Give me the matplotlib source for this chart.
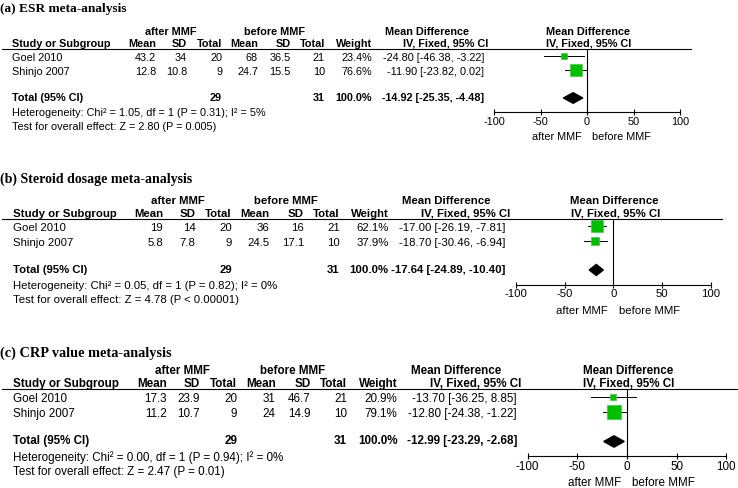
import matplotlib
matplotlib.use("Agg")
import matplotlib.pyplot as plt
from matplotlib.lines import Line2D
from matplotlib.patches import Polygon

# --- data ---
titles = ["(a) ESR meta-analysis", "(b) Steroid dosage meta-analysis", "(c) CRP value meta-analysis"]
studies = ["Goel 2010", "Shinjo 2007"]
mean_after = [[43.2, 12.8], [19, 5.8], [17.3, 11.2]]
sd_after = [[34, 10.8], [14, 7.8], [23.9, 10.7]]
n_after = [[20, 9], [20, 9], [20, 9]]
mean_before = [[68, 24.7], [36, 24.5], [31, 24]]
sd_before = [[36.5, 15.5], [16, 17.1], [46.7, 14.9]]
n_before = [[21, 10], [21, 10], [21, 10]]
weights = [[23.4, 76.6], [62.1, 37.9], [20.9, 79.1]]
md = [[-24.80, -11.90], [-17.00, -18.70], [-13.70, -12.80]]
md_lo = [[-46.38, -23.82], [-26.19, -30.46], [-36.25, -24.38]]
md_hi = [[-3.22, 0.02], [-7.81, -6.94], [8.85, -1.22]]
total_md = [-14.92, -17.64, -12.99]
total_lo = [-25.35, -24.89, -23.29]
total_hi = [-4.48, -10.40, -2.68]
chi2 = ["1.05", "0.05", "0.00"]
p_het = ["0.31", "0.82", "0.94"]
i2 = ["5", "0", "0"]
z_val = ["2.80", "4.78", "2.47"]
p_z = ["= 0.005", "< 0.00001", "= 0.01"]
x_ticks = [-100, -50, 0, 50, 100]

# --- layout (pixels of panel a; other panels are scaled copies) ---
W, H = 738, 488
TITLE_Y = [9, 179, 353]
TOP_Y = [32, 201, 371]
SCALE = [1.0, 1.045, 1.068]
COLS = [156, 187, 222, 258, 291, 325, 372, 484]
ROWS = [26, 40]
FS, TFS = 7.85, 9.6
SANS = "Liberation Sans"
GREEN = "#00bf00"

fig = plt.figure(figsize=(W / 100, H / 100), dpi=100)


def put(p, x, y, s, ha="left", bold=False):
    k = SCALE[p]
    fig.text(x * k / W, 1 - (TOP_Y[p] + y * k) / H, s, fontsize=FS * k, ha=ha,
             va="center", family=SANS, fontweight="bold" if bold else "normal")


for p in range(3):
    k = SCALE[p]
    fig.text(0.0, 1 - TITLE_Y[p] / H, titles[p], fontsize=TFS * k, va="center",
             family="Liberation Serif", fontweight="bold")

    # header
    put(p, 170.5, 0, "after MMF", ha="center", bold=True)
    put(p, 274, 0, "before MMF", ha="center", bold=True)
    put(p, 427, 0, "Mean Difference", ha="center", bold=True)
    put(p, 588, 0, "Mean Difference", ha="center", bold=True)
    put(p, 12, 12, "Study or Subgroup", bold=True)
    for x, lab in zip(COLS[:7], ["Mean", "SD", "Total", "Mean", "SD", "Total", "Weight"]):
        put(p, x, 12, lab, ha="right", bold=True)
    put(p, 488, 12, "IV, Fixed, 95% CI", ha="right", bold=True)
    put(p, 589, 12, "IV, Fixed, 95% CI", ha="center", bold=True)
    uy = 1 - (TOP_Y[p] + 17 * k) / H
    fig.add_artist(Line2D([2 * k / W, 691 * k / W], [uy, uy], color="black", lw=0.8))

    # study rows
    for i, name in enumerate(studies):
        vals = [f"{mean_after[p][i]:g}", f"{sd_after[p][i]:g}", f"{n_after[p][i]}",
                f"{mean_before[p][i]:g}", f"{sd_before[p][i]:g}", f"{n_before[p][i]}",
                f"{weights[p][i]:.1f}%",
                f"{md[p][i]:.2f} [{md_lo[p][i]:.2f}, {md_hi[p][i]:.2f}]"]
        put(p, 12, ROWS[i], name)
        for x, v in zip(COLS, vals):
            put(p, x, ROWS[i], v, ha="right")

    # total rows
    put(p, 12, 66, "Total (95% CI)", bold=True)
    put(p, COLS[2], 66, f"{sum(n_after[p])}", ha="right", bold=True)
    put(p, COLS[5], 66, f"{sum(n_before[p])}", ha="right", bold=True)
    put(p, COLS[6], 66, f"{sum(weights[p]):.1f}%", ha="right", bold=True)
    put(p, COLS[7], 66, f"{total_md[p]:.2f} [{total_lo[p]:.2f}, {total_hi[p]:.2f}]",
        ha="right", bold=True)
    put(p, 12, 81, f"Heterogeneity: Chi\u00b2 = {chi2[p]}, df = 1 (P = {p_het[p]}); I\u00b2 = {i2[p]}%")
    put(p, 12, 95, f"Test for overall effect: Z = {z_val[p]} (P {p_z[p]})")

    # forest panel
    x0, half = 587 * k, 93 * k
    top, bot = TOP_Y[p] + 17 * k, TOP_Y[p] + 80 * k
    ax = fig.add_axes([(x0 - half) / W, 1 - bot / H, 2 * half / W, (bot - top) / H])
    ax.set_xlim(-100, 100)
    ax.set_ylim(80, 17)
    ax.patch.set_alpha(0)
    for s in ["top", "left", "right"]:
        ax.spines[s].set_visible(False)
    ax.spines["bottom"].set_linewidth(0.8)
    ax.set_yticks([])
    ax.set_xticks(x_ticks)
    ax.set_xticklabels([f"{t}" for t in x_ticks], family=SANS)
    ax.tick_params(axis="x", direction="inout", length=4.5, width=0.8,
                   labelsize=FS * k, pad=1.2)
    ax.axvline(0, color="black", lw=0.8)
    for i in range(2):
        y = ROWS[i] - 2
        ax.plot([md_lo[p][i], md_hi[p][i]], [y, y], color="black", lw=0.7)
        side = 0.61 * weights[p][i] ** 0.7 * k
        ax.plot(md[p][i], y, marker="s", ms=side * 0.72, mfc=GREEN,
                mec="#3fd03f", mew=0.5, ls="none")
    h = 5.3
    ax.add_patch(Polygon([[total_lo[p], 66], [total_md[p], 66 - h],
                          [total_hi[p], 66], [total_md[p], 66 + h]],
                         closed=True, color="black"))
    fig.text((x0 - 5 * k) / W, 1 - (TOP_Y[p] + 105 * k) / H, "after MMF",
             fontsize=FS * k, ha="right", va="center", family=SANS)
    fig.text((x0 + 5 * k) / W, 1 - (TOP_Y[p] + 105 * k) / H, "before MMF",
             fontsize=FS * k, ha="left", va="center", family=SANS)

fig.savefig("out.png", dpi=100)
